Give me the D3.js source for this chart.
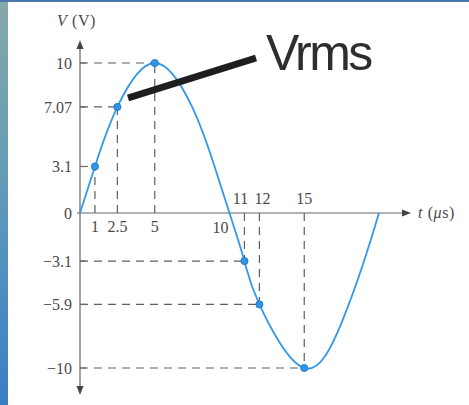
<!DOCTYPE html>
<html>
<head>
<meta charset="utf-8">
<script src="https://cdn.jsdelivr.net/npm/d3@7"></script>
<style>
  html, body { margin: 0; padding: 0; background: #fff; }
  svg { display: block; }
</style>
</head>
<body>
<svg id="chart" width="469" height="405"></svg>
<script>
// Sine wave, period 20 µs, peak 10 V
const curveT = [0, 1, 2.5, 5, 7.5, 9, 10, 11, 12, 15, 17.5, 19, 20];
const curveV = [0, 3.1, 7.07, 10, 7.07, 3.1, 0, -3.1, -5.9, -10, -7.07, -3.1, 0];

// Marked points with guide lines
const markT = [1, 2.5, 5, 11, 12, 15];
const markV = [3.1, 7.07, 10, -3.1, -5.9, -10];

// Axis labels
const yTickValues = [10, 7.07, 3.1, 0, -3.1, -5.9, -10];
const yTickLabels = ["10", "7.07", "3.1", "0", "\u22123.1", "\u22125.9", "\u221210"];
const xTicksBelow = [1, 2.5, 5];
const xTicksBelowLabels = ["1", "2.5", "5"];
const xTicksAbove = [11, 12, 15];
const xTicksAboveLabels = ["11", "12", "15"];
const zeroCrossT = 10;
const zeroCrossLabel = "10";
const annotation = "Vrms";

const svg = d3.select("#chart");

// Slide backdrop: blue strip on the left and a thin line along the top
const defs = svg.append("defs");
const grad = defs.append("linearGradient").attr("id", "strip")
  .attr("x1", 0).attr("y1", 0).attr("x2", 0).attr("y2", 1);
grad.append("stop").attr("offset", "0%").attr("stop-color", "#86a8a8");
grad.append("stop").attr("offset", "35%").attr("stop-color", "#6a9fb4");
grad.append("stop").attr("offset", "70%").attr("stop-color", "#4f8ec0");
grad.append("stop").attr("offset", "100%").attr("stop-color", "#3a7fc4");
svg.append("rect").attr("x", 0).attr("y", 0).attr("width", 8).attr("height", 405)
  .attr("fill", "url(#strip)");
svg.append("rect").attr("x", 0).attr("y", 0).attr("width", 469).attr("height", 2)
  .attr("fill", "#4a78aa");

const x = d3.scaleLinear().domain([0, 20]).range([80, 379]);
const y = d3.scaleLinear().domain([-10, 0, 10]).range([368, 213, 63]);

const axisColor = "#666";
const labelColor = "#4a4a4a";
const serif = "'Liberation Serif', 'DejaVu Serif', serif";
const x0 = x(0), y0 = y(0);

// Dashed guides from the axes to each marked point
const guides = svg.append("g")
  .attr("stroke", "#5e5e5e").attr("stroke-width", 1.2)
  .attr("stroke-dasharray", "8,6").attr("fill", "none");
markT.forEach((t, i) => {
  const px = x(t), py = y(markV[i]);
  guides.append("line").attr("x1", x0).attr("y1", py).attr("x2", px).attr("y2", py);
  guides.append("line").attr("x1", px).attr("y1", y0).attr("x2", px).attr("y2", py);
});

// Axes with arrow heads
const ax = svg.append("g").attr("stroke", axisColor).attr("stroke-width", 1.2);
ax.append("line").attr("x1", x0).attr("y1", 46).attr("x2", x0).attr("y2", 389);
ax.append("line").attr("x1", 77).attr("y1", y0).attr("x2", 404).attr("y2", y0);
svg.append("path").attr("d", `M${x0},40 L${x0 - 3.5},49 L${x0 + 3.5},49 Z`).attr("fill", "#444");
svg.append("path").attr("d", `M${x0},395 L${x0 - 3.5},386 L${x0 + 3.5},386 Z`).attr("fill", "#444");
svg.append("path").attr("d", `M411,${y0} L402,${y0 - 3.5} L402,${y0 + 3.5} Z`).attr("fill", "#444");

// Short tick marks on the V axis
svg.append("g").attr("stroke", axisColor).attr("stroke-width", 1.2)
  .selectAll("line").data(yTickValues.filter(v => v !== 0)).join("line")
  .attr("x1", x0).attr("x2", x0 + 6).attr("y1", d => y(d)).attr("y2", d => y(d));

// V-axis tick labels
svg.append("g").attr("font-family", serif).attr("font-size", 16).attr("fill", labelColor)
  .attr("text-anchor", "end")
  .selectAll("text").data(yTickValues).join("text")
  .attr("x", 72).attr("y", d => y(d)).attr("dy", "0.35em")
  .text((d, i) => yTickLabels[i]);

// Time-axis tick labels (11 and 12 nudged apart so they do not touch)
const aboveNudge = [-4, 3, 0];
const xl = svg.append("g").attr("font-family", serif).attr("font-size", 16)
  .attr("fill", labelColor).attr("text-anchor", "middle");
xl.selectAll("text.below").data(xTicksBelow).join("text").attr("class", "below")
  .attr("x", d => x(d)).attr("y", 232).text((d, i) => xTicksBelowLabels[i]);
xl.selectAll("text.above").data(xTicksAbove).join("text").attr("class", "above")
  .attr("x", (d, i) => x(d) + aboveNudge[i]).attr("y", 204).text((d, i) => xTicksAboveLabels[i]);
xl.append("text").attr("x", x(zeroCrossT) - 9).attr("y", 233).text(zeroCrossLabel);

// Axis titles
const yt = svg.append("text").attr("font-family", serif).attr("font-size", 16)
  .attr("fill", labelColor).attr("x", 57).attr("y", 26).attr("letter-spacing", 0.6);
yt.append("tspan").attr("font-style", "italic").text("V");
yt.append("tspan").text(" (V)");
const xt = svg.append("text").attr("font-family", serif).attr("font-size", 16)
  .attr("fill", labelColor).attr("x", 418).attr("y", y0 + 5).attr("letter-spacing", 0.6);
xt.append("tspan").attr("font-style", "italic").text("t");
xt.append("tspan").text(" (");
xt.append("tspan").attr("font-style", "italic").text("\u03bc");
xt.append("tspan").text("s)");

// Waveform
const pts = curveT.map((t, i) => [t, curveV[i]]);
svg.append("path").datum(pts)
  .attr("fill", "none").attr("stroke", "#3398ec").attr("stroke-width", 1.8)
  .attr("d", d3.line().x(d => x(d[0])).y(d => y(d[1])).curve(d3.curveNatural));

// Marked points
svg.append("g").selectAll("circle").data(markT).join("circle")
  .attr("cx", d => x(d)).attr("cy", (d, i) => y(markV[i])).attr("r", 3.6)
  .attr("fill", "#2f95ea").attr("stroke", "#1a6fb8").attr("stroke-width", 0.8);

// Vrms callout
svg.append("line").attr("x1", 128).attr("y1", 98).attr("x2", 256).attr("y2", 58)
  .attr("stroke", "#1e1e1e").attr("stroke-width", 7);
svg.append("text").attr("x", 266).attr("y", 70)
  .attr("font-family", "'Liberation Sans', Arial, sans-serif").attr("font-size", 50)
  .attr("letter-spacing", -2.5).attr("fill", "#2e2e2e").text(annotation);
</script>
</body>
</html>
